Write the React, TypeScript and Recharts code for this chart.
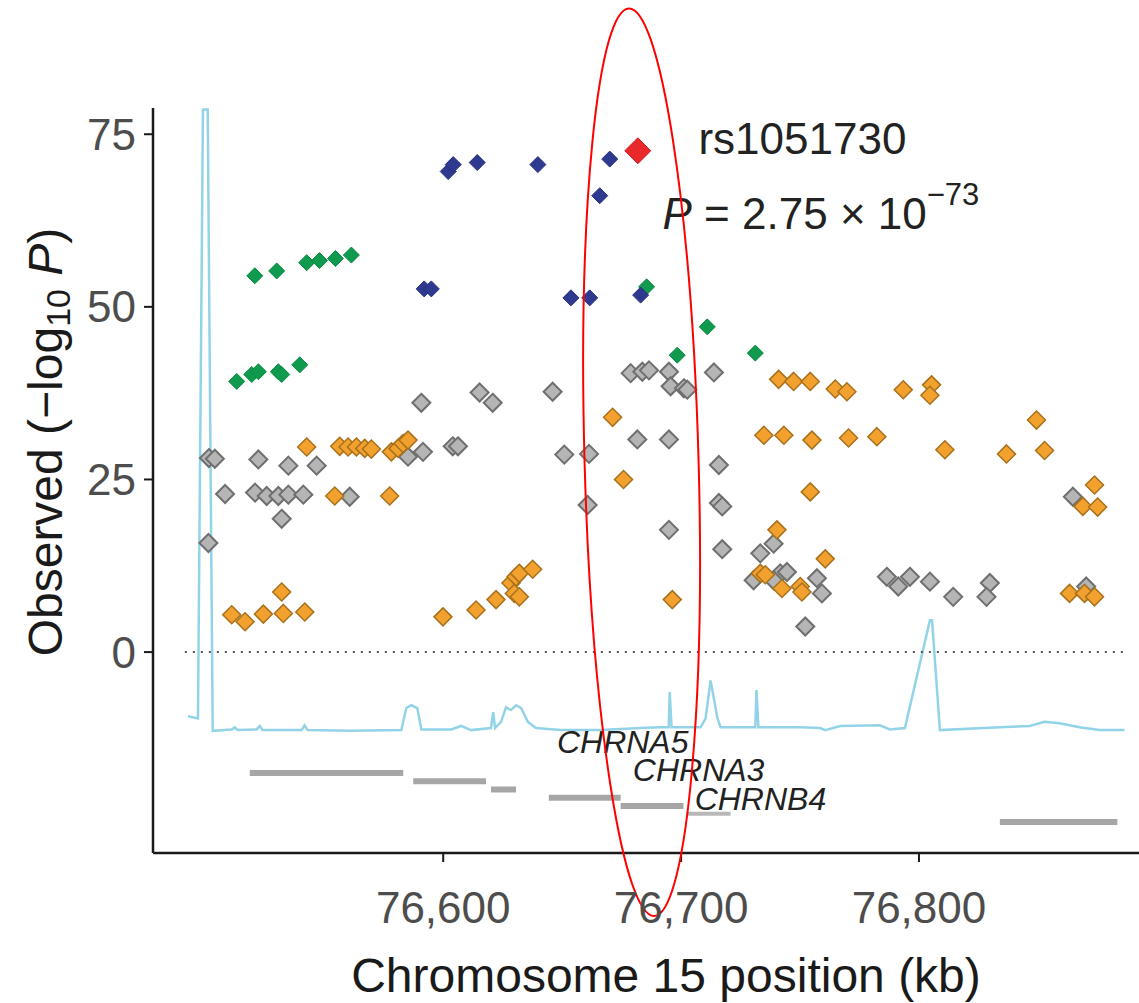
import React from 'react';
import { ComposedChart, Scatter, Line, XAxis, YAxis, ReferenceLine, ReferenceDot } from 'recharts';

// positions in kb, values in -log10 P
const navyPos = [76602.1, 76604.2, 76614.3, 76639.8, 76670.0, 76665.8, 76592.0, 76595.0, 76653.7, 76661.6, 76683.0];
const navyP = [69.6, 70.6, 70.9, 70.6, 71.4, 66.1, 52.6, 52.6, 51.3, 51.3, 51.7];

const greenPos = [76520.8, 76530.0, 76542.6, 76548.0, 76554.7, 76561.4, 76513.2, 76519.5, 76522.3, 76530.7, 76532.1, 76539.7, 76685.5, 76711.0, 76698.4, 76731.2];
const greenP = [54.5, 55.2, 56.4, 56.7, 57.0, 57.5, 39.2, 40.2, 40.6, 40.6, 40.2, 41.6, 52.9, 47.1, 43.0, 43.3];

const grayPos = [
  76501.5, 76504.0, 76522.3, 76534.9, 76546.8, 76508.3, 76520.9, 76525.8, 76530.7, 76534.9, 76541.2, 76532.1, 76501.3,
  76590.8, 76615.3, 76620.8, 76591.5, 76585.2, 76604.0, 76606.2, 76560.7, 76646.0, 76650.9, 76661.3, 76681.6, 76694.9,
  76660.7, 76694.9, 76678.8, 76683.7, 76686.5, 76694.9, 76695.6, 76701.2, 76702.6, 76713.8, 76715.9, 76715.9, 76717.3,
  76717.3, 76733.3, 76738.9, 76730.5, 76741.7, 76744.5, 76738.9, 76757.1, 76759.2, 76752.2, 76786.5, 76791.3, 76796.2,
  76804.6, 76814.4, 76829.8, 76828.4, 76864.7, 76870.3,
];
const grayP = [
  28.1, 28.0, 27.9, 27.0, 27.0, 22.9, 23.1, 22.6, 22.6, 22.8, 22.8, 19.3, 15.8,
  36.1, 37.6, 36.1, 29.0, 28.3, 29.8, 29.8, 22.5, 37.7, 28.6, 28.7, 30.8, 30.8,
  21.3, 17.7, 40.4, 40.6, 40.8, 40.6, 38.5, 38.2, 38.0, 40.5, 27.1, 21.6, 21.1,
  14.9, 14.3, 15.7, 10.4, 11.4, 11.6, 10.4, 10.7, 8.5, 3.7, 10.9, 9.5, 10.9,
  10.2, 8.0, 10.0, 8.0, 22.5, 9.5,
];

const orangePos = [
  76542.6, 76556.5, 76560.0, 76563.5, 76567.0, 76569.8, 76578.2, 76581.0, 76583.1, 76585.2, 76554.4, 76577.5, 76532.1,
  76511.1, 76516.7, 76524.4, 76532.8, 76541.8, 76599.9, 76613.8, 76622.2, 76628.5, 76630.6, 76632.0, 76629.9, 76632.0,
  76637.6, 76671.2, 76675.8, 76696.3, 76741.0, 76747.3, 76754.3, 76764.8, 76769.7, 76793.4, 76805.3, 76804.6, 76734.8,
  76743.2, 76755.0, 76770.4, 76782.3, 76810.9, 76836.8, 76849.4, 76852.8, 76754.3, 76873.8, 76868.9, 76875.1, 76740.3,
  76760.6, 76733.3, 76735.4, 76742.4, 76750.1, 76750.8, 76863.3, 76869.6, 76873.8,
];
const orangeP = [
  29.7, 29.8, 29.7, 29.7, 29.5, 29.4, 29.0, 29.5, 30.2, 30.7, 22.6, 22.6, 8.7,
  5.4, 4.4, 5.5, 5.6, 5.8, 5.1, 6.1, 7.6, 10.0, 10.9, 11.4, 8.5, 8.0,
  12.0, 34.0, 25.0, 7.6, 39.5, 39.2, 39.2, 38.1, 37.7, 38.0, 38.7, 37.2, 31.4,
  31.4, 30.7, 31.0, 31.2, 29.3, 28.7, 33.6, 29.2, 23.2, 24.2, 21.1, 21.0, 17.7,
  13.5, 11.4, 11.2, 9.2, 9.5, 8.7, 8.5, 8.5, 8.0,
];

const leadPos = [76681.8];
const leadP = [72.6];

// recombination rate, drawn rescaled into the lower band of the panel
const recombPos = [
  76492.7, 76496.9, 76499.0, 76501.0, 76503.1, 76511.1, 76512.4, 76513.6, 76521.6, 76522.9, 76524.1, 76540.5, 76541.7,
  76543.0, 76561.4, 76582.4, 76584.5, 76586.6, 76589.1, 76590.8, 76603.4, 76607.5, 76611.7, 76620.1, 76621.0, 76621.8,
  76624.3, 76626.4, 76628.5, 76630.6, 76632.7, 76635.6, 76639.0, 76649.5, 76666.2, 76683.0, 76691.4, 76694.8, 76695.2,
  76696.0, 76708.2, 76710.3, 76712.4, 76715.3, 76716.6, 76731.2, 76731.7, 76732.5, 76750.1, 76758.5, 76760.6, 76766.9,
  76783.6, 76787.8, 76794.1, 76804.6, 76805.5, 76808.8, 76834.0, 76846.5, 76852.8, 76859.1, 76867.5, 76875.9, 76886.4,
];
const recombVal = [
  -9.3, -9.6, 78.6, 78.6, -11.4, -11.2, -10.9, -11.3, -11.2, -10.7, -11.3, -11.3, -10.6,
  -11.3, -11.4, -11.3, -8.1, -7.7, -8.1, -11.2, -11.2, -10.7, -11.3, -11.0, -8.7, -11.0,
  -10.1, -8.0, -8.4, -7.7, -8.1, -10.1, -11.0, -11.3, -11.3, -11.0, -10.9, -10.9, -5.8,
  -10.9, -10.9, -9.6, -4.1, -9.6, -10.9, -10.9, -5.5, -10.9, -10.9, -11.0, -11.3, -10.7,
  -10.6, -11.2, -11.0, 4.6, 4.6, -11.3, -10.9, -10.7, -10.1, -10.3, -10.9, -11.3, -11.3,
];

// gene tracks: start, end, lane
const geneStart = [76518.7, 76587.4, 76620.1, 76644.4, 76674.6, 76702.3, 76834.0];
const geneEnd = [76583.2, 76618.0, 76630.6, 76674.6, 76701.0, 76720.8, 76883.4];
const geneLane = [-17.5, -18.7, -19.9, -21.1, -22.3, -23.4, -24.6];
const geneNames = ['CHRNA5', 'CHRNA3', 'CHRNB4'];
const geneLabelPos = [76647.8, 76679.7, 76705.7];
const geneLabelY = [-14.6, -18.6, -22.8];

const xTicks = [76600, 76700, 76800];
const yTicks = [0, 25, 50, 75];

const FONT = '"Liberation Sans", Arial, Helvetica, sans-serif';

const toRows = (xs: number[], ys: number[]) => xs.map((x, i) => ({ pos: x, p: ys[i] }));

const diamond = (fill: string, stroke: string, r: number, sw = 1.5) => (props: any) => {
  const { cx, cy } = props;
  if (cx == null || cy == null) return <g />;
  return (
    <polygon
      points={`${cx},${cy - r} ${cx + r},${cy} ${cx},${cy + r} ${cx - r},${cy}`}
      fill={fill}
      stroke={stroke}
      strokeWidth={sw}
    />
  );
};

const YTitle = (props: any) => {
  const vb = props.viewBox || { x: 0, y: 108 };
  const cx = vb.x + 45;
  const cy = vb.y + 334;
  return (
    <text
      x={cx}
      y={cy}
      transform={`rotate(-90 ${cx} ${cy})`}
      textAnchor="middle"
      dominantBaseline="central"
      fontSize={48}
      fill="#1a1a1a"
      fontFamily={FONT}
    >
      Observed (−log<tspan fontSize={34} dy={13}>10</tspan>
      <tspan dy={-13}> </tspan>
      <tspan fontStyle="italic">P</tspan>)
    </text>
  );
};

const XTitle = (props: any) => {
  const vb = props.viewBox || { x: 153, y: 853, width: 986 };
  return (
    <text x={vb.x + vb.width / 2 + 20} y={vb.y + 139} textAnchor="middle" fontSize={48} fill="#1a1a1a" fontFamily={FONT}>
      Chromosome 15 position (kb)
    </text>
  );
};

export default function App() {
  return (
    <div style={{ position: 'absolute', left: 0, top: 0, width: 1139, height: 1003, background: '#fff', fontFamily: FONT }}>
      <ComposedChart width={1139} height={1003} margin={{ top: 108, right: 0, bottom: 0, left: 0 }}>
        <XAxis
          type="number"
          dataKey="pos"
          domain={[76478, 76892.5]}
          ticks={xTicks}
          interval={0}
          allowDataOverflow
          height={150}
          tickSize={9}
          tickMargin={30}
          tickFormatter={(v: number) => v.toLocaleString('en-US')}
          axisLine={{ stroke: '#1a1a1a', strokeWidth: 2.5 }}
          tickLine={{ stroke: '#1a1a1a', strokeWidth: 2 }}
          tick={{ fontSize: 44, fill: '#4d4d4d', fontFamily: FONT }}
          label={{ content: XTitle }}
        />
        <YAxis
          type="number"
          dataKey="p"
          domain={[-29.1, 78.8]}
          ticks={yTicks}
          interval={0}
          allowDataOverflow
          width={153}
          tickSize={9}
          tickMargin={8}
          axisLine={{ stroke: '#1a1a1a', strokeWidth: 2.5 }}
          tickLine={{ stroke: '#1a1a1a', strokeWidth: 2 }}
          tick={{ fontSize: 44, fill: '#4d4d4d', fontFamily: FONT }}
          label={{ content: YTitle }}
        />

        <Line
          data={toRows(recombPos, recombVal)}
          dataKey="p"
          type="linear"
          dot={false}
          stroke="#93d3e8"
          strokeWidth={2.5}
          isAnimationActive={false}
        />

        <ReferenceLine
          segment={[{ x: 76491.4, y: 0 }, { x: 76886.4, y: 0 }]}
          stroke="#555"
          strokeWidth={2}
          strokeDasharray="2 6"
          ifOverflow="visible"
        />

        {geneStart.map((s, i) => (
          <ReferenceLine
            key={'g' + i}
            segment={[{ x: s, y: geneLane[i] }, { x: geneEnd[i], y: geneLane[i] }]}
            stroke={i === 5 ? '#b8b8b8' : '#a6a6a6'}
            strokeWidth={i === 5 ? 4 : 6}
            ifOverflow="visible"
          />
        ))}
        {geneNames.map((name, i) => (
          <ReferenceDot
            key={name}
            x={geneLabelPos[i]}
            y={geneLabelY[i]}
            r={0}
            ifOverflow="visible"
            shape={(p: any) => (
              <text x={p.cx} y={p.cy} fontSize={32} fontStyle="italic" fill="#222" fontFamily={FONT}>
                {name}
              </text>
            )}
          />
        ))}

        <Scatter data={toRows(grayPos, grayP)} dataKey="p" shape={diamond('#b5b5b5', '#6f6f6f', 9, 2)} isAnimationActive={false} />
        <Scatter data={toRows(orangePos, orangeP)} dataKey="p" shape={diamond('#f2a12e', '#a8711c', 9, 1.5)} isAnimationActive={false} />
        <Scatter data={toRows(greenPos, greenP)} dataKey="p" shape={diamond('#0f9a4e', '#0c8a44', 8, 1)} isAnimationActive={false} />
        <Scatter data={toRows(navyPos, navyP)} dataKey="p" shape={diamond('#2e3a8f', '#27307a', 8, 1)} isAnimationActive={false} />
        <Scatter data={toRows(leadPos, leadP)} dataKey="p" shape={diamond('#e8282b', '#d41f22', 13, 1)} isAnimationActive={false} />

        <ReferenceDot
          x={76707.3}
          y={72.2}
          r={0}
          ifOverflow="visible"
          shape={(p: any) => (
            <text x={p.cx} y={p.cy} fontSize={44} fill="#222" fontFamily={FONT}>
              rs1051730
            </text>
          )}
        />
        <ReferenceDot
          x={76692.2}
          y={61.3}
          r={0}
          ifOverflow="visible"
          shape={(p: any) => (
            <text x={p.cx} y={p.cy} fontSize={44} fill="#222" fontFamily={FONT}>
              <tspan fontStyle="italic">P</tspan> = 2.75 × 10<tspan dy={-24} fontSize={31}>−73</tspan>
            </text>
          )}
        />

        <ReferenceDot
          x={76683.4}
          y={27.5}
          r={0}
          ifOverflow="visible"
          shape={(p: any) => (
            <ellipse
              cx={p.cx}
              cy={p.cy}
              rx={57}
              ry={454}
              transform={`rotate(-1.6 ${p.cx} ${p.cy})`}
              fill="none"
              stroke="#ff0000"
              strokeWidth={2}
            />
          )}
        />
      </ComposedChart>
    </div>
  );
}
